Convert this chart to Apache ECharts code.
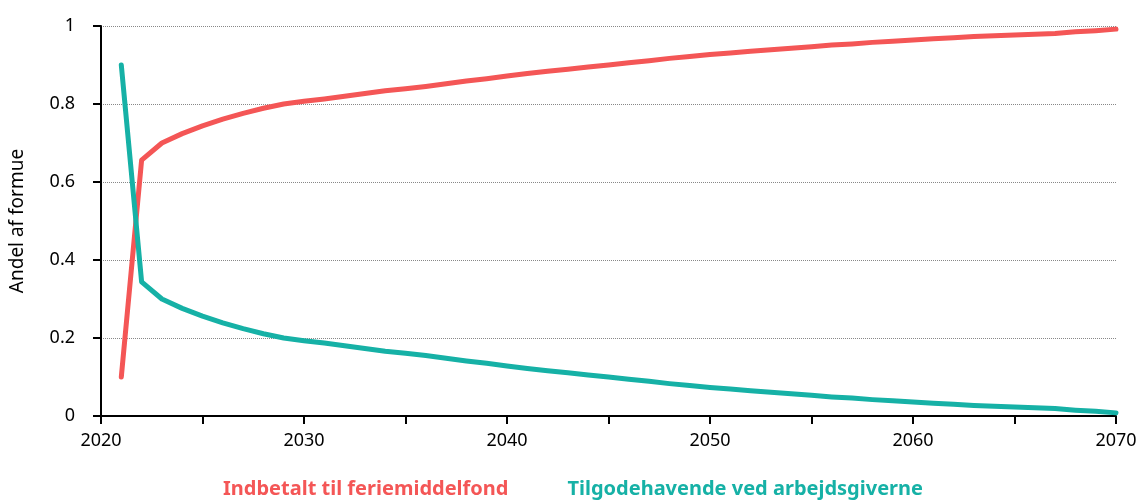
<!DOCTYPE html>
<html>
<head>
<meta charset="utf-8">
<script src="https://cdn.jsdelivr.net/npm/echarts@6/dist/echarts.min.js"></script>
<style>
  html, body { margin: 0; padding: 0; background: #fff; }
  #chart { width: 1141px; height: 504px; }
</style>
</head>
<body>
<div id="chart"></div>
<script>
const years = [2021, 2022, 2023, 2024, 2025, 2026, 2027, 2028, 2029, 2030,
  2031, 2032, 2033, 2034, 2035, 2036, 2037, 2038, 2039, 2040,
  2041, 2042, 2043, 2044, 2045, 2046, 2047, 2048, 2049, 2050,
  2051, 2052, 2053, 2054, 2055, 2056, 2057, 2058, 2059, 2060,
  2061, 2062, 2063, 2064, 2065, 2066, 2067, 2068, 2069, 2070]
const feriemiddelfond = [0.10, 0.656, 0.700, 0.724, 0.744, 0.761, 0.776, 0.789, 0.800, 0.807,
  0.813, 0.820, 0.827, 0.834, 0.839, 0.845, 0.852, 0.859, 0.865, 0.872,
  0.878, 0.884, 0.889, 0.895, 0.900, 0.906, 0.911, 0.917, 0.922, 0.927,
  0.931, 0.935, 0.939, 0.943, 0.947, 0.951, 0.954, 0.958, 0.961, 0.964,
  0.967, 0.970, 0.973, 0.975, 0.977, 0.979, 0.981, 0.985, 0.988, 0.992]
const arbejdsgiverne = [0.90, 0.344, 0.300, 0.276, 0.256, 0.239, 0.224, 0.211, 0.200, 0.193,
  0.187, 0.180, 0.173, 0.166, 0.161, 0.155, 0.148, 0.141, 0.135, 0.128,
  0.122, 0.116, 0.111, 0.105, 0.100, 0.094, 0.089, 0.083, 0.078, 0.073,
  0.069, 0.065, 0.061, 0.057, 0.053, 0.049, 0.046, 0.042, 0.039, 0.036,
  0.033, 0.030, 0.027, 0.025, 0.023, 0.021, 0.019, 0.015, 0.012, 0.008]
const seriesNames = ['Indbetalt til feriemiddelfond', 'Tilgodehavende ved arbejdsgiverne']
const colors = ['#f45656', '#16b1a6']

const chart = echarts.init(document.getElementById('chart'))
const font = '"Noto Sans", "Open Sans", sans-serif'

chart.setOption({
  animation: false,
  textStyle: { fontFamily: font },
  grid: { left: 99, right: 25, top: 26, bottom: 88 },
  legend: {
    bottom: 0,
    left: 'center',
    icon: 'none',
    itemWidth: 0,
    itemGap: 54,
    data: seriesNames.map((n, i) => ({
      name: n,
      textStyle: { color: colors[i], fontSize: 20, fontWeight: 'bold', fontFamily: font }
    }))
  },
  xAxis: {
    type: 'value',
    min: 2020,
    max: 2070,
    interval: 5,
    axisLine: { lineStyle: { color: '#000', width: 2 } },
    axisTick: { show: true, length: 8, lineStyle: { color: '#000', width: 2 } },
    axisLabel: {
      color: '#000', fontSize: 18, margin: 16,
      formatter: v => (v % 10 === 0 ? String(v) : '')
    },
    splitLine: { show: false }
  },
  yAxis: {
    type: 'value',
    min: 0,
    max: 1,
    interval: 0.2,
    name: 'Andel af formue',
    nameLocation: 'middle',
    nameGap: 74,
    nameTextStyle: { color: '#000', fontSize: 19 },
    axisLine: { show: true, lineStyle: { color: '#000', width: 2 } },
    axisTick: { show: true, length: 8, lineStyle: { color: '#000', width: 2 } },
    axisLabel: {
      color: '#000', fontSize: 18, margin: 26,
      formatter: v => String(Math.round(v * 10) / 10)
    },
    splitLine: { show: true, lineStyle: { color: '#888', type: [1, 1], width: 1 } }
  },
  series: [
    {
      name: seriesNames[0],
      type: 'line',
      data: years.map((y, i) => [y, feriemiddelfond[i]]),
      showSymbol: false,
      lineStyle: { color: colors[0], width: 5, cap: 'round', join: 'round' },
      itemStyle: { color: colors[0] }
    },
    {
      name: seriesNames[1],
      type: 'line',
      data: years.map((y, i) => [y, arbejdsgiverne[i]]),
      showSymbol: false,
      lineStyle: { color: colors[1], width: 5, cap: 'round', join: 'round' },
      itemStyle: { color: colors[1] }
    }
  ]
})
</script>
</body>
</html>
